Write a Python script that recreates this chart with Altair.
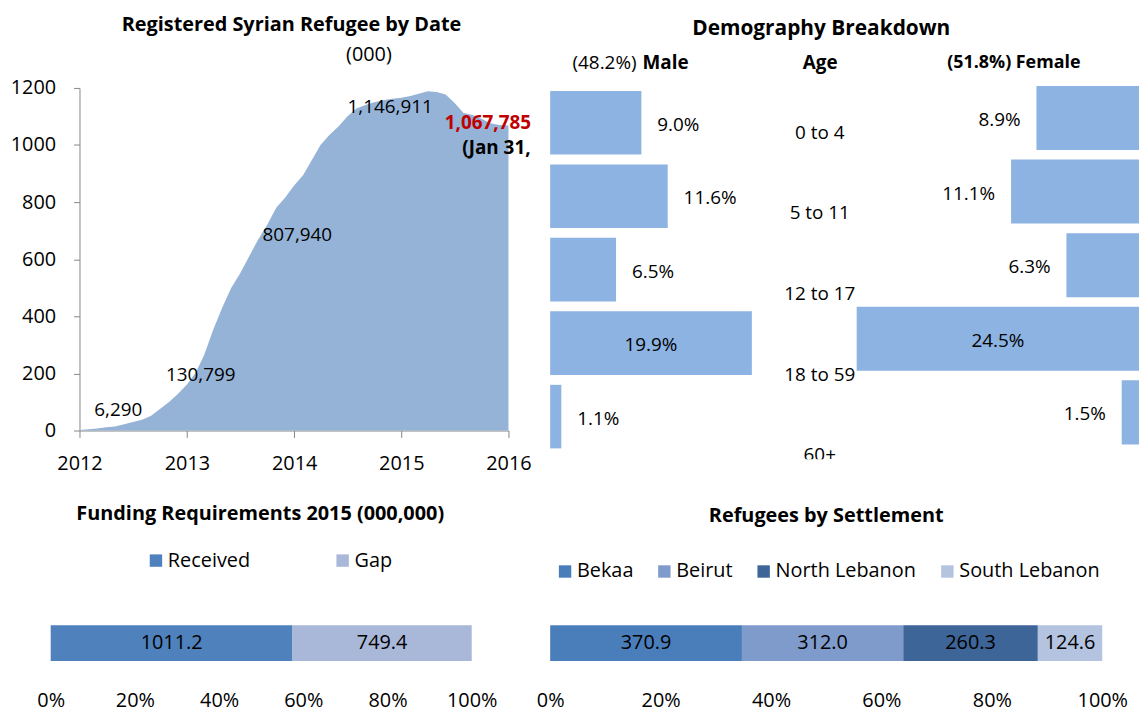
import altair as alt
import pandas as pd

FONT = "Open Sans"

# ---------------- data ----------------
# Registered Syrian refugees in Lebanon (thousands), first day of each month
months = [f"{y}-{m:02d}-01T00:00:00" for y in range(2012, 2016) for m in range(1, 13)] + ["2016-01-01T00:00:00"]
refugees_k = [
    2, 4, 7, 11, 14, 22, 30, 38, 52, 75, 100, 128,
    161, 205, 265, 355, 430, 500, 550, 610, 670, 720, 780, 815,
    858, 895, 945, 1000, 1035, 1065, 1100, 1128, 1140, 1150, 1157, 1162,
    1166, 1172, 1180, 1188, 1186, 1177, 1148, 1112, 1105, 1092, 1076, 1070,
    1068,
]

# data-label annotations (anchor in data units)
label_texts = ["6,290", "130,799", "807,940", "1,146,911"]
label_dates = ["2012-05-12T00:00:00", "2013-02-17T00:00:00", "2014-01-12T00:00:00", "2014-11-24T00:00:00"]
label_y = [70, 195, 685, 1134]
latest_text = ["1,067,785"]
latest_date = ["2015-10-23T00:00:00"]
latest_y = [1078]
note_text = ["(Jan 31,"]
note_date = ["2015-11-21T00:00:00"]
note_y = [991]

ages = ["0 to 4", "5 to 11", "12 to 17", "18 to 59", "60+"]
male_pct = [9.0, 11.6, 6.5, 19.9, 1.1]
female_pct = [8.9, 11.1, 6.3, 24.5, 1.5]
male_share = ["(48.2%)"]
male_word = ["Male"]
female_head = ["(51.8%) Female"]
age_head = ["Age"]

funding_cats = ["Received", "Gap"]
funding_vals = [1011.2, 749.4]

settle_cats = ["Bekaa", "Beirut", "North Lebanon", "South Lebanon"]
settle_vals = [370.9, 312.0, 260.3, 124.6]

# ---------------- styles ----------------
AREA = "#95B3D7"
DEMO = "#8DB3E2"
fund_colors = ["#4F81BD", "#A9B8D9"]
settle_colors = ["#4A7EBB", "#7F9BCB", "#3D6597", "#B3C3E0"]
GREY = "#868686"


def title(text, size, dx, offset):
    return alt.TitleParams(text=text, fontSize=size, fontWeight="bold", color="black",
                           anchor="middle", frame="group", dx=dx, offset=offset)


# ---------------- panel A: area ----------------
area_df = pd.DataFrame({"date": months, "refugees": refugees_k})
xA = alt.Scale(domain=[alt.DateTime(year=2012, month=1, date=1),
                       alt.DateTime(year=2016, month=1, date=1)], range=[29, 461])
yA = alt.Scale(domain=[0, 1200], nice=False)
xA_axis = alt.Axis(format="%Y", tickCount={"interval": "year", "step": 1}, grid=False,
                   tickSize=7, labelPadding=16, labelFlush=False, labelFontSize=20,
                   labelColor="black", domainColor=GREY, tickColor=GREY, title=None)
yA_axis = alt.Axis(values=[0, 200, 400, 600, 800, 1000, 1200], format="d", grid=False, offset=-29,
                   tickSize=6, labelPadding=18, labelFontSize=20, labelColor="black",
                   domainColor=GREY, tickColor=GREY, title="(000)", titleAngle=0,
                   titleX=291, titleY=-33.5, titleAlign="center", titleBaseline="middle",
                   titleFontSize=20, titleFontWeight="normal", titleColor="black")

enc_A = dict(x=alt.X("date:T", scale=xA, axis=xA_axis),
             y=alt.Y("refugees:Q", scale=yA, axis=yA_axis))

area = alt.Chart(area_df).mark_area(color=AREA).encode(**enc_A)
lbl_a = alt.Chart(pd.DataFrame({"date": label_dates, "refugees": label_y, "t": label_texts})) \
    .mark_text(fontSize=19, color="black").encode(text="t:N", **enc_A)
lbl_b = alt.Chart(pd.DataFrame({"date": latest_date, "refugees": latest_y, "t": latest_text})) \
    .mark_text(fontSize=19, fontWeight="bold", color="#C00000").encode(text="t:N", **enc_A)
lbl_c = alt.Chart(pd.DataFrame({"date": note_date, "refugees": note_y, "t": note_text})) \
    .mark_text(fontSize=19, fontWeight="bold", color="black").encode(text="t:N", **enc_A)

panel_a = alt.layer(area, lbl_a, lbl_b, lbl_c).properties(
    width=461, height=345, title=title("Registered Syrian Refugee by Date", 20, 12, 10))

# ---------------- panel B: demography ----------------
demo_df = pd.DataFrame({"age": ages, "male": male_pct, "female": female_pct})
ym = alt.Scale(type="band", domain=ages, range=[3, 363], paddingInner=0.135, paddingOuter=0)
yf = alt.Scale(type="band", domain=ages, range=[-2, 359], paddingInner=0.13, paddingOuter=0)
ya = alt.Scale(type="point", domain=ages, range=[45, 370], padding=0)
xm = alt.Scale(domain=[0, 58.1], nice=False)
xf = alt.Scale(domain=[0, 51.1], nice=False, reverse=True)

base_d = alt.Chart(demo_df)
male_bars = base_d.mark_bar(color=DEMO).encode(
    x=alt.X("male:Q", scale=xm, axis=None), y=alt.Y("age:N", scale=ym, axis=None))
male_out = base_d.transform_filter("datum.male < 15") \
    .transform_calculate(t="format(datum.male, '.1f') + '%'") \
    .mark_text(align="left", dx=16, dy=2, fontSize=19, color="black").encode(
        x=alt.X("male:Q", scale=xm, axis=None), y=alt.Y("age:N", scale=ym, axis=None), text="t:N")
male_in = base_d.transform_filter("datum.male >= 15") \
    .transform_calculate(t="format(datum.male, '.1f') + '%'", mid="datum.male / 2") \
    .mark_text(dy=2, fontSize=19, color="black").encode(
        x=alt.X("mid:Q", scale=xm, axis=None), y=alt.Y("age:N", scale=ym, axis=None), text="t:N")

female_bars = base_d.mark_bar(color=DEMO).encode(
    x=alt.X("female:Q", scale=xf, axis=None), y=alt.Y("age:N", scale=yf, axis=None))
female_out = base_d.transform_filter("datum.female < 15") \
    .transform_calculate(t="format(datum.female, '.1f') + '%'") \
    .mark_text(align="right", dx=-16, dy=2, fontSize=19, color="black").encode(
        x=alt.X("female:Q", scale=xf, axis=None), y=alt.Y("age:N", scale=yf, axis=None), text="t:N")
female_in = base_d.transform_filter("datum.female >= 15") \
    .transform_calculate(t="format(datum.female, '.1f') + '%'", mid="datum.female / 2") \
    .mark_text(dy=2, fontSize=19, color="black").encode(
        x=alt.X("mid:Q", scale=xf, axis=None), y=alt.Y("age:N", scale=yf, axis=None), text="t:N")

age_labels = base_d.mark_text(fontSize=19, color="black", clip=True).encode(
    x=alt.value(271.5), y=alt.Y("age:N", scale=ya, axis=None), text="age:N")

hdr_male_pct = alt.Chart(pd.DataFrame({"t": male_share})).mark_text(
    align="right", baseline="middle", fontSize=19, color="black").encode(
    x=alt.value(87), y=alt.value(-25), text="t:N")
hdr_male = alt.Chart(pd.DataFrame({"t": male_word})).mark_text(
    align="left", baseline="middle", fontSize=19, fontWeight="bold", color="black").encode(
    x=alt.value(93), y=alt.value(-25), text="t:N")
hdr_age = alt.Chart(pd.DataFrame({"t": age_head})).mark_text(
    align="center", baseline="middle", fontSize=19, fontWeight="bold", color="black").encode(
    x=alt.value(272), y=alt.value(-25), text="t:N")
hdr_female = alt.Chart(pd.DataFrame({"t": female_head})).mark_text(
    align="center", baseline="middle", fontSize=18, fontWeight="bold", color="black").encode(
    x=alt.value(467), y=alt.value(-25), text="t:N")

panel_b = alt.layer(male_bars, male_out, male_in, female_bars, female_out, female_in,
                    age_labels, hdr_male_pct, hdr_male, hdr_age, hdr_female) \
    .resolve_scale(x="independent", y="independent") \
    .properties(width=593, height=374, title=title("Demography Breakdown", 21, -23.5, 15))


# ---------------- 100% stacked single bars ----------------
def stacked_panel(cats, vals, colors, width, legend_x, legend_y, col_pad, lab_off, ttl, dx, off):
    df = pd.DataFrame({"part": cats, "amount": vals, "idx": list(range(len(cats)))})
    base = alt.Chart(df) \
        .transform_joinaggregate(total="sum(amount)") \
        .transform_window(cum="sum(amount)", sort=[alt.SortField("idx")]) \
        .transform_calculate(start="(datum.cum - datum.amount) / datum.total",
                             end="datum.cum / datum.total",
                             mid="(datum.cum - datum.amount / 2) / datum.total",
                             t="format(datum.amount, '.1f')",
                             row="'all'")
    xs = alt.Scale(domain=[0, 1], nice=False)
    xs_axis = alt.Axis(format="%", values=[0, 0.2, 0.4, 0.6, 0.8, 1], domain=False, ticks=False,
                       tickSize=0, grid=False, labelPadding=30, labelFontSize=20,
                       labelColor="black", labelFlush=False, title=None)
    ys = alt.Scale(paddingInner=0, paddingOuter=0)
    bars = base.mark_bar().encode(
        x=alt.X("start:Q", scale=xs, axis=xs_axis), x2="end:Q",
        y=alt.Y("row:N", scale=ys, axis=None),
        color=alt.Color("part:N", scale=alt.Scale(domain=cats, range=colors),
                        legend=alt.Legend(title=None, orient="none", legendX=legend_x,
                                          legendY=legend_y, direction="horizontal",
                                          symbolType="square", symbolSize=156,
                                          symbolStrokeWidth=0, labelFontSize=20,
                                          labelColor="black", labelOffset=lab_off,
                                          columnPadding=col_pad, padding=0)))
    text = base.mark_text(fontSize=20, color="black").encode(
        x=alt.X("mid:Q", scale=xs, axis=xs_axis),
        y=alt.Y("row:N", scale=ys, axis=None), text="t:N")
    return alt.layer(bars, text).properties(width=width, height=36, title=title(ttl, 20, dx, off))


panel_c = stacked_panel(funding_cats, funding_vals, fund_colors, 424, 96, -75, 83, 2,
                        "Funding Requirements 2015 (000,000)", -1, 26.5)
panel_d = stacked_panel(settle_cats, settle_vals, settle_colors, 556, 5, -64, 21, 2,
                        "Refugees by Settlement", 0, 36)

chart = alt.concat(panel_a, panel_b, panel_c, panel_d, columns=2,
                   spacing={"row": 167, "column": 42}, bounds="flush") \
    .resolve_scale(color="independent") \
    .resolve_legend(color="independent") \
    .properties(padding={"left": 2, "top": 4, "right": 0, "bottom": 0}) \
    .configure(font=FONT).configure_view(strokeWidth=0)

chart.save("out.html", embed_options={"renderer": "svg", "actions": False})
